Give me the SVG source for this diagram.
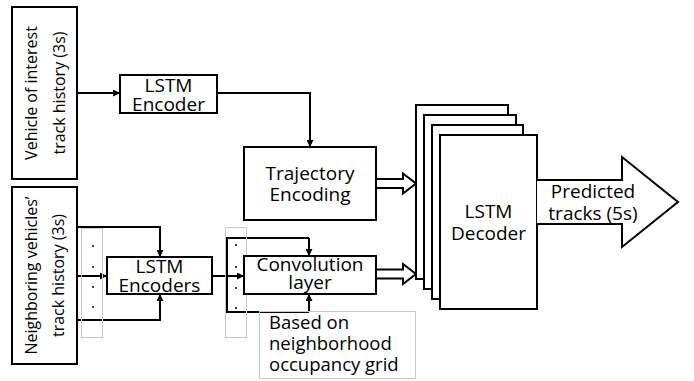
<svg xmlns="http://www.w3.org/2000/svg" width="694" height="381" viewBox="0 0 694 381">
<defs>
<style>
.box{fill:#fff;stroke:#000;stroke-width:2}
.grey{fill:none;stroke:#c8c8c8;stroke-width:1}
.ln{fill:none;stroke:#000;stroke-width:2}
.t{font-family:"Open Sans","Liberation Sans",sans-serif;font-size:19px;fill:#000;text-anchor:middle}
.r{font-family:"Open Sans","Liberation Sans",sans-serif;font-size:16px;fill:#000;text-anchor:middle}
.n{font-family:"Open Sans","Liberation Sans",sans-serif;font-size:18.5px;fill:#000}
.dot{fill:#000}
</style>
<marker id="ah" viewBox="0 0 10 10" refX="10" refY="5" markerWidth="8" markerHeight="7" markerUnits="userSpaceOnUse" orient="auto">
<path d="M0,0 L10,5 L0,10 Z" fill="#000"/>
</marker>
</defs>
<rect width="694" height="381" fill="#fff"/>

<g id="connectors">
<path class="ln" d="M77,93 H120" marker-end="url(#ah)"/>
<path class="ln" d="M217,93 H310 V147" marker-end="url(#ah)"/>
<path class="ln" d="M77,227 H160 V257" marker-end="url(#ah)"/>
<path class="ln" d="M77,276 H107" marker-end="url(#ah)"/>
<path class="ln" d="M77,320 H160 V294" marker-end="url(#ah)"/>
<path class="ln" d="M212,276 H244" marker-end="url(#ah)"/>
<path class="ln" d="M309,238 H227 V312 H309" />
<path class="ln" d="M309,238 V256" marker-end="url(#ah)"/>
<path class="ln" d="M309,312 V294" marker-end="url(#ah)"/>
<path class="box" d="M376,179 H403 V173.5 L416,183.5 L403,193.5 V188 H376"/>
<path class="box" d="M376,269.5 H403 V264 L416,274 L403,284 V278.5 H376"/>
</g>

<g id="vehicle-of-interest">
<rect class="box" x="12" y="7" width="65" height="172"/>
<text class="r" transform="translate(37,93) rotate(-90)">Vehicle of interest</text>
<text class="r" transform="translate(65,93) rotate(-90)">track history (3s)</text>
</g>

<g id="neighboring-vehicles">
<rect class="box" x="12" y="187" width="65" height="177"/>
<text class="r" transform="translate(37,275.5) rotate(-90)">Neighboring vehicles’</text>
<text class="r" transform="translate(64,275.5) rotate(-90)">track history (3s)</text>
</g>

<g id="neighbor-dots">
<rect class="grey" x="81.5" y="228.5" width="21" height="109"/>
<circle class="dot" cx="93" cy="246" r="1"/>
<circle class="dot" cx="93" cy="267" r="1"/>
<circle class="dot" cx="93" cy="287" r="1"/>
<circle class="dot" cx="93" cy="307" r="1"/>
</g>

<g id="lstm-encoder">
<rect class="box" x="120" y="75" width="97" height="38"/>
<text class="t" x="168.5" y="92">LSTM</text>
<text class="t" x="168.5" y="111">Encoder</text>
</g>

<g id="lstm-encoders">
<rect class="box" x="107" y="257" width="105" height="37"/>
<text class="t" x="159.5" y="273">LSTM</text>
<text class="t" x="159.5" y="292">Encoders</text>
</g>

<g id="encoding-dots">
<rect class="grey" x="225.5" y="227.5" width="21" height="110"/>
<circle class="dot" cx="236" cy="245" r="1"/>
<circle class="dot" cx="236" cy="267" r="1"/>
<circle class="dot" cx="236" cy="288" r="1"/>
<circle class="dot" cx="236" cy="308" r="1"/>
</g>

<g id="trajectory-encoding">
<rect class="box" x="244" y="147" width="132" height="73"/>
<text class="t" x="310" y="180">Trajectory</text>
<text class="t" x="310" y="201">Encoding</text>
</g>

<g id="convolution-layer">
<rect class="box" x="244" y="256" width="132" height="38"/>
<text class="t" x="310" y="271">Convolution</text>
<text class="t" x="310" y="289">layer</text>
</g>

<g id="occupancy-note">
<rect class="grey" x="259.5" y="311.5" width="156" height="67"/>
<text class="n" x="269" y="329">Based on</text>
<text class="n" x="269" y="350">neighborhood</text>
<text class="n" x="269" y="371">occupancy grid</text>
</g>

<g id="lstm-decoder">
<rect class="box" x="416" y="105" width="92" height="174"/>
<rect class="box" x="424" y="115" width="92" height="174"/>
<rect class="box" x="432" y="125" width="91" height="174"/>
<rect class="box" x="440" y="135" width="97" height="174"/>
<text class="t" x="488.5" y="218">LSTM</text>
<text class="t" x="488.5" y="240">Decoder</text>
</g>

<g id="predicted-tracks">
<path class="box" d="M537,180 H622 V157 L678,202 L622,247 V224 H537"/>
<text class="t" x="593" y="198">Predicted</text>
<text class="t" x="593" y="220">tracks (5s)</text>
</g>
</svg>
